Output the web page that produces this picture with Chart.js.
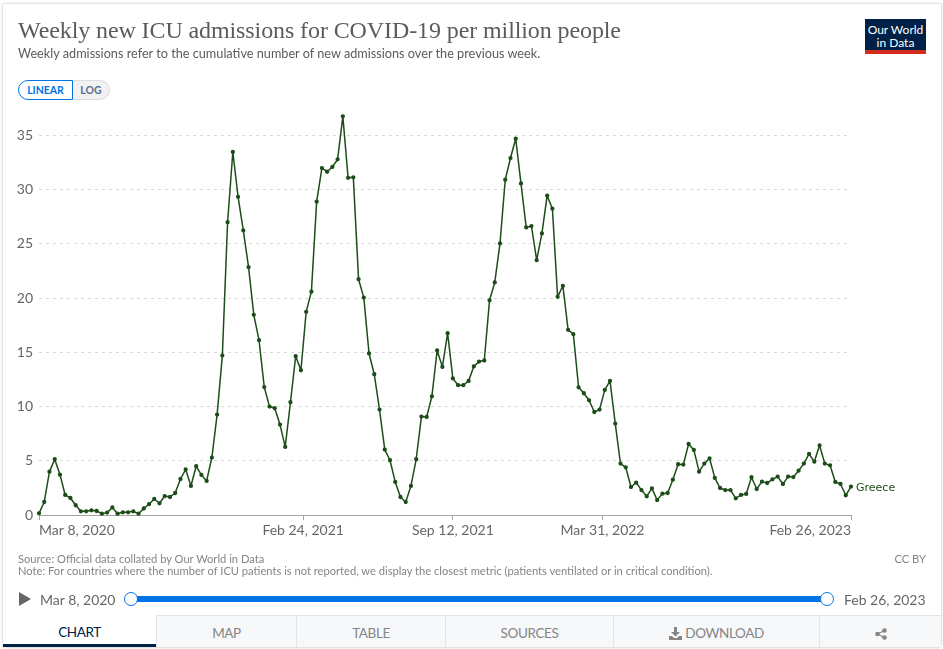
<!DOCTYPE html>
<html>
<head>
<meta charset="utf-8">
<title>Weekly new ICU admissions for COVID-19 per million people</title>
<script src="https://cdn.jsdelivr.net/npm/chart.js@4"></script>
<style>
  html, body { margin: 0; padding: 0; background: #fff; }
  body { width: 943px; height: 649px; overflow: hidden; font-family: Lato, sans-serif; position: relative; }
  #card { position: absolute; left: 3px; top: 4px; width: 938px; height: 643px; box-shadow: 0 0 3px rgba(0,0,0,.3); border-radius: 2px; background: #fff; }
  #grafica { position: absolute; left: 0; top: 0; }
  .txt { position: absolute; white-space: nowrap; }
  #titulo { left: 18px; top: 17px; font: 24px "Liberation Serif", serif; color: #5b5b5b; letter-spacing: -.1px; }
  #subtitulo { left: 18px; top: 45px; font-size: 12.7px; color: #5b5b5b; }
  #logo { position: absolute; left: 865px; top: 19px; width: 61px; background: #002147; border-bottom: 4px solid #d42b21; color: #fff; font-size: 12px; line-height: 13px; text-align: center; padding-top: 4px; height: 27px; }
  .btn { position: absolute; top: 80px; height: 20px; box-sizing: border-box; font-size: 10.5px; font-weight: bold; line-height: 18px; text-align: center; }
  #linear { left: 18px; width: 55px; border: 1px solid #0073e6; border-radius: 10px 0 0 10px; color: #0073e6; background: #fff; }
  #log { left: 73px; width: 37px; border: 1px solid #ddd; border-left: 0; border-radius: 0 10px 10px 0; color: #53718f; background: #f2f2f2; }
  .pie { font-size: 11.15px; color: #858585; }
  .fecha { font-size: 14px; color: #666; top: 591px; }
  #play { position: absolute; left: 19px; top: 592px; width: 0; height: 0; border-left: 12px solid #666; border-top: 7px solid transparent; border-bottom: 7px solid transparent; }
  #barra { position: absolute; left: 131px; top: 596px; width: 696px; height: 6px; background: #0073e6; }
  .tirador { position: absolute; top: 592px; width: 14px; height: 14px; box-sizing: border-box; border: 1px solid #0073e6; border-radius: 50%; background: #fff; }
  .tab { position: absolute; top: 615px; height: 32px; box-sizing: border-box; background: #f7f8fa; border-top: 1px solid #e2e4e8; border-left: 1px solid #e2e4e8; font-size: 13.5px; letter-spacing: -.4px; color: #858585; text-align: center; line-height: 34px; }
  #tab-chart { background: #fff; border: 0; border-bottom: 3px solid #002147; color: #002147; line-height: 34px; }
  .tab svg { vertical-align: -2px; }
</style>
</head>
<body>
<div id="card"></div>
<canvas id="grafica" width="943" height="649"></canvas>

<div class="txt" id="titulo">Weekly new ICU admissions for COVID-19 per million people</div>
<div class="txt" id="subtitulo">Weekly admissions refer to the cumulative number of new admissions over the previous week.</div>
<div id="logo">Our World<br>in Data</div>
<div class="btn" id="linear">LINEAR</div>
<div class="btn" id="log">LOG</div>

<div class="txt pie" style="left:18px;top:552px">Source: Official data collated by Our World in Data</div>
<div class="txt pie" style="left:18px;top:564px">Note: For countries where the number of ICU patients is not reported, we display the closest metric (patients ventilated or in critical condition).</div>
<div class="txt pie" style="right:17px;top:552px">CC BY</div>

<div id="play"></div>
<div class="txt fecha" style="left:40px">Mar 8, 2020</div>
<div id="barra"></div>
<div class="tirador" style="left:124px"></div>
<div class="tirador" style="left:820px"></div>
<div class="txt fecha" style="left:844px">Feb 26, 2023</div>

<div class="tab" id="tab-chart" style="left:3px;width:153px">CHART</div>
<div class="tab" style="left:156px;width:140px">MAP</div>
<div class="tab" style="left:296px;width:149px">TABLE</div>
<div class="tab" style="left:445px;width:168px">SOURCES</div>
<div class="tab" style="left:613px;width:206px"><svg width="13" height="13" viewBox="0 0 13 13"><path d="M5 0h3v5h3L6.500 9.500 2 5h3z M0 9h3l2 2h3l2-2h3v4H0z" fill="#858585"/></svg> DOWNLOAD</div>
<div class="tab" style="left:819px;width:122px"><svg width="12" height="12" viewBox="0 0 12 12"><circle cx="2.500" cy="6" r="2.300" fill="#858585"/><circle cx="9.500" cy="2.500" r="2.300" fill="#858585"/><circle cx="9.500" cy="9.500" r="2.300" fill="#858585"/><path d="M2.500 6L9.500 2.500M2.500 6L9.500 9.500" stroke="#858585" stroke-width="1.200"/></svg></div>

<script>
const pais = 'Greece';
const colorLinea = '#1d4d18';

// one reading per week, starting Mar 8, 2020
const admisiones = [
  0.15, 1.2, 4.0, 5.14, 3.72, 1.85, 1.57, 0.9, 0.34, 0.34,
  0.43, 0.37, 0.12, 0.22, 0.7, 0.12, 0.25, 0.25, 0.34, 0.12,
  0.6, 1.0, 1.48, 1.08, 1.75, 1.66, 2.03, 3.32, 4.2, 2.68,
  4.5, 3.7, 3.14, 5.3, 9.26, 14.7, 27.0, 33.48, 29.35, 26.25,
  22.86, 18.46, 16.12, 11.8, 10.0, 9.85, 8.34, 6.28, 10.4, 14.65,
  13.35, 18.74, 20.6, 28.9, 32.0, 31.66, 32.1, 32.8, 36.77, 31.1,
  31.14, 21.75, 20.05, 14.9, 12.98, 9.72, 6.03, 5.05, 3.05, 1.66,
  1.2, 2.68, 5.14, 9.08, 9.05, 10.95, 15.17, 13.66, 16.77, 12.6,
  11.97, 11.97, 12.37, 13.7, 14.15, 14.25, 19.8, 21.45, 25.05, 30.92,
  32.92, 34.7, 30.58, 26.52, 26.65, 23.5, 25.97, 29.45, 28.25, 20.12,
  21.14, 17.08, 16.68, 11.78, 11.23, 10.58, 9.5, 9.72, 11.54, 12.37,
  8.43, 4.74, 4.4, 2.58, 2.98, 2.3, 1.72, 2.46, 1.38, 1.97,
  2.03, 3.26, 4.68, 4.65, 6.55, 6.0, 4.0, 4.74, 5.23, 3.42,
  2.49, 2.3, 2.3, 1.54, 1.85, 1.94, 3.48, 2.4, 3.08, 2.95,
  3.29, 3.54, 2.86, 3.54, 3.5, 4.09, 4.74, 5.63, 4.92, 6.43,
  4.74, 4.58, 3.05, 2.86, 1.82, 2.62
];

// x axis is counted in days since the first reading
const diasEtiqueta = [0, 353, 553, 753, 1085];
const etiquetasX = ['Mar 8, 2020', 'Feb 24, 2021', 'Sep 12, 2021', 'Mar 31, 2022', 'Feb 26, 2023'];
const ticksY = [0, 5, 10, 15, 20, 25, 30, 35];

const puntos = admisiones.map((v, i) => ({ x: i * 7, y: v }));

// country name next to the last point
const etiquetaFinal = {
  id: 'etiquetaFinal',
  afterDatasetsDraw(chart) {
    const ultimo = puntos[puntos.length - 1];
    const c = chart.ctx;
    c.save();
    c.font = '11px "DejaVu Sans"';
    c.fillStyle = colorLinea;
    c.textBaseline = 'middle';
    c.fillText(pais, chart.scales.x.getPixelForValue(ultimo.x) + 5, chart.scales.y.getPixelForValue(ultimo.y) + 2);
    c.restore();
  }
};

new Chart(document.getElementById('grafica').getContext('2d'), {
  type: 'line',
  plugins: [etiquetaFinal],
  data: {
    datasets: [{
      label: pais,
      data: puntos,
      borderColor: colorLinea,
      backgroundColor: colorLinea,
      borderWidth: 1.5,
      borderJoinStyle: 'round',
      pointRadius: 1.4,
      pointHoverRadius: 1.4,
      tension: 0,
      clip: false
    }]
  },
  options: {
    responsive: false,
    animation: false,
    events: [],
    layout: { padding: { top: 116, right: 92, left: 0, bottom: 0 } },
    plugins: { legend: { display: false }, tooltip: { enabled: false } },
    scales: {
      x: {
        type: 'linear',
        min: diasEtiqueta[0],
        max: diasEtiqueta[diasEtiqueta.length - 1],
        afterBuildTicks: s => { s.ticks = diasEtiqueta.map(d => ({ value: d })); },
        afterFit: s => { s.height = 134; },
        grid: { drawOnChartArea: false, drawTicks: true, tickLength: 5, color: '#a3a3a3' },
        border: { color: '#a3a3a3' },
        ticks: {
          autoSkip: false,
          maxRotation: 0,
          align: 'inner',
          padding: 2,
          color: '#666',
          font: { family: 'Lato', size: 14 },
          callback: v => etiquetasX[diasEtiqueta.indexOf(v)]
        }
      },
      y: {
        min: 0,
        max: 36.8,
        afterBuildTicks: s => { s.ticks = ticksY.map(v => ({ value: v })); },
        afterFit: s => { s.width = 39; },
        grid: { drawTicks: false, color: '#d8d8d8' },
        border: { display: false, dash: [3, 4] },
        ticks: {
          padding: 6,
          color: '#666',
          font: { family: 'Lato', size: 14 }
        }
      }
    }
  }
});
</script>
</body>
</html>
